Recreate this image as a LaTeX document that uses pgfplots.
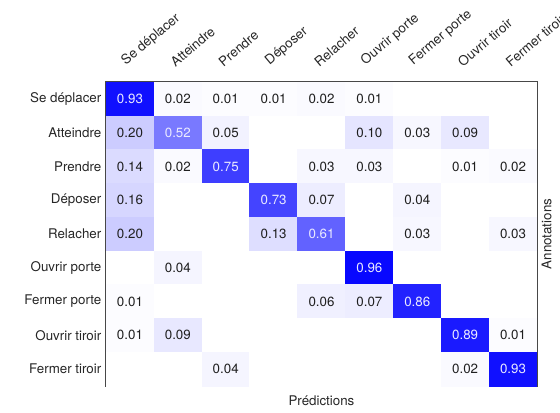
\documentclass[border=0pt]{standalone}
\usepackage{pgfplots}
\pgfplotsset{compat=1.18}
\usepackage{pgfplotstable}
\usepackage{fontspec}
\setmainfont{TeX Gyre Heros}
\setsansfont{TeX Gyre Heros}

% full confusion matrix: x = prediction index, y = annotation index
\pgfplotstableread{
x y C
0 0 0.93
1 0 0.02
2 0 0.01
3 0 0.01
4 0 0.02
5 0 0.01
6 0 0
7 0 0
8 0 0

0 1 0.20
1 1 0.52
2 1 0.05
3 1 0
4 1 0
5 1 0.10
6 1 0.03
7 1 0.09
8 1 0

0 2 0.14
1 2 0.02
2 2 0.75
3 2 0
4 2 0.03
5 2 0.03
6 2 0
7 2 0.01
8 2 0.02

0 3 0.16
1 3 0
2 3 0
3 3 0.73
4 3 0.07
5 3 0
6 3 0.04
7 3 0
8 3 0

0 4 0.20
1 4 0
2 4 0
3 4 0.13
4 4 0.61
5 4 0
6 4 0.03
7 4 0
8 4 0.03

0 5 0
1 5 0.04
2 5 0
3 5 0
4 5 0
5 5 0.96
6 5 0
7 5 0
8 5 0

0 6 0.01
1 6 0
2 6 0
3 6 0
4 6 0.06
5 6 0.07
6 6 0.86
7 6 0
8 6 0

0 7 0.01
1 7 0.09
2 7 0
3 7 0
4 7 0
5 7 0
6 7 0
7 7 0.89
8 7 0.01

0 8 0
1 8 0
2 8 0.04
3 8 0
4 8 0
5 8 0
6 8 0
7 8 0.02
8 8 0.93
}\cm

% labels shown in dark text
\pgfplotstableread{
x y v
1 0 0.02
2 0 0.01
3 0 0.01
4 0 0.02
5 0 0.01
0 1 0.20
2 1 0.05
5 1 0.10
6 1 0.03
7 1 0.09
0 2 0.14
1 2 0.02
4 2 0.03
5 2 0.03
7 2 0.01
8 2 0.02
0 3 0.16
4 3 0.07
6 3 0.04
0 4 0.20
3 4 0.13
6 4 0.03
8 4 0.03
1 5 0.04
0 6 0.01
4 6 0.06
5 6 0.07
0 7 0.01
1 7 0.09
8 7 0.01
2 8 0.04
7 8 0.02
}\darklab

% labels shown in white text
\pgfplotstableread{
x y v
0 0 0.93
1 1 0.52
2 2 0.75
3 3 0.73
4 4 0.61
5 5 0.96
6 6 0.86
7 7 0.89
8 8 0.93
}\lightlab

\begin{document}
\begin{tikzpicture}
\begin{axis}[
  name=ax,
  at={(0,0)}, anchor=south west,
  scale only axis,
  width=323.25pt, height=228pt,
  xmin=-0.5, xmax=8.5, ymin=-0.5, ymax=8.5,
  enlargelimits=false,
  y dir=reverse,
  axis line style={black!72, line width=0.8pt},
  major tick length=0pt,
  xtick={0,...,8}, ytick={0,...,8},
  xticklabels={Se déplacer, Atteindre, Prendre, Déposer, Relacher, Ouvrir porte, Fermer porte, Ouvrir tiroir, Fermer tiroir},
  yticklabels={Se déplacer, Atteindre, Prendre, Déposer, Relacher, Ouvrir porte, Fermer porte, Ouvrir tiroir, Fermer tiroir},
  xticklabel pos=right,
  xticklabel style={xshift=-2pt, yshift=6pt, rotate=40, anchor=south west, text=black!85},
  yticklabel style={text=black!85},
  xlabel={Prédictions},
  ylabel={Annotations},
  xlabel style={text=black!85, at={(rel axis cs:0.5,0)}, anchor=north, yshift=-4pt},
  ylabel style={text=black!85, at={(rel axis cs:1,0.5)}, anchor=north, rotate=0},
  colormap={wb}{rgb255=(255,255,255) rgb255=(0,0,255)},
  point meta min=0, point meta max=1,
]
\addplot[matrix plot*, mesh/cols=9, point meta=explicit] table[x=x, y=y, meta=C] {\cm};
\addplot[only marks, mark=none, point meta=explicit symbolic,
  nodes near coords, nodes near coords align=center,
  nodes near coords style={anchor=center, text=black!88}] table[x=x, y=y, meta=v] {\darklab};
\addplot[only marks, mark=none, point meta=explicit symbolic,
  nodes near coords, nodes near coords align=center,
  nodes near coords style={anchor=center, text=white!92!blue}] table[x=x, y=y, meta=v] {\lightlab};
\end{axis}
\pgfresetboundingbox
\useasboundingbox ([shift={(-79.5pt,-19.5pt)}]ax.south west) rectangle ([shift={(340.5pt,289.5pt)}]ax.south west);
\end{tikzpicture}
\end{document}
